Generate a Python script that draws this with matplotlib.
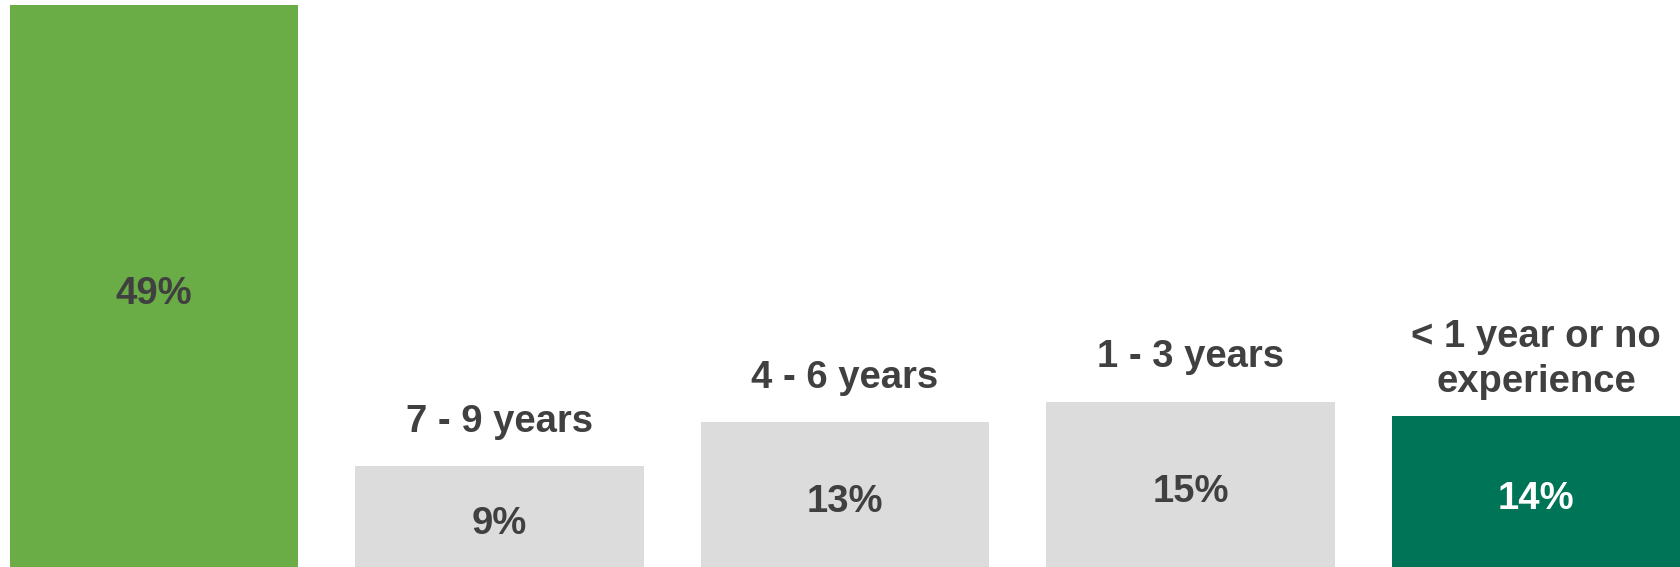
import matplotlib
matplotlib.use("Agg")
import matplotlib.pyplot as plt

categories = ["", "7 - 9 years", "4 - 6 years", "1 - 3 years", "< 1 year or no\nexperience"]
values = [49, 8.8, 12.6, 14.4, 13.2]
value_labels = ["49%", "9%", "13%", "15%", "14%"]
colors = ["#6AAC46", "#DCDCDC", "#DCDCDC", "#DCDCDC", "#007456"]
value_colors = ["#404040", "#404040", "#404040", "#404040", "#FFFFFF"]

plt.rcParams['font.family'] = ['Liberation Sans', 'DejaVu Sans']

fig = plt.figure(figsize=(16.8, 5.67), dpi=100)
ax = fig.add_axes([0, 0, 1, 1])
x = list(range(len(values)))
bars = ax.bar(x, values, width=0.834, color=colors)
ax.set_xlim(-0.4457, 4.417)
ax.set_ylim(0, 49.44)
ax.axis('off')

for xi, v, lab, vc in zip(x, values, value_labels, value_colors):
    ax.annotate(lab, (xi, v / 2), xytext=(0, -5.5), textcoords='offset points',
                ha='center', va='center', fontsize=27.5,
                fontweight='bold', color=vc)

for xi, v, cat in zip(x, values, categories):
    if cat:
        multi = "\n" in cat
        ax.annotate(cat, (xi, v), xytext=(0, 11 if multi else 19),
                    textcoords='offset points',
                    ha='center', va='bottom', fontsize=27.5, fontweight='bold',
                    color="#404040", linespacing=1.35)

fig.savefig("out.png", dpi=100)
